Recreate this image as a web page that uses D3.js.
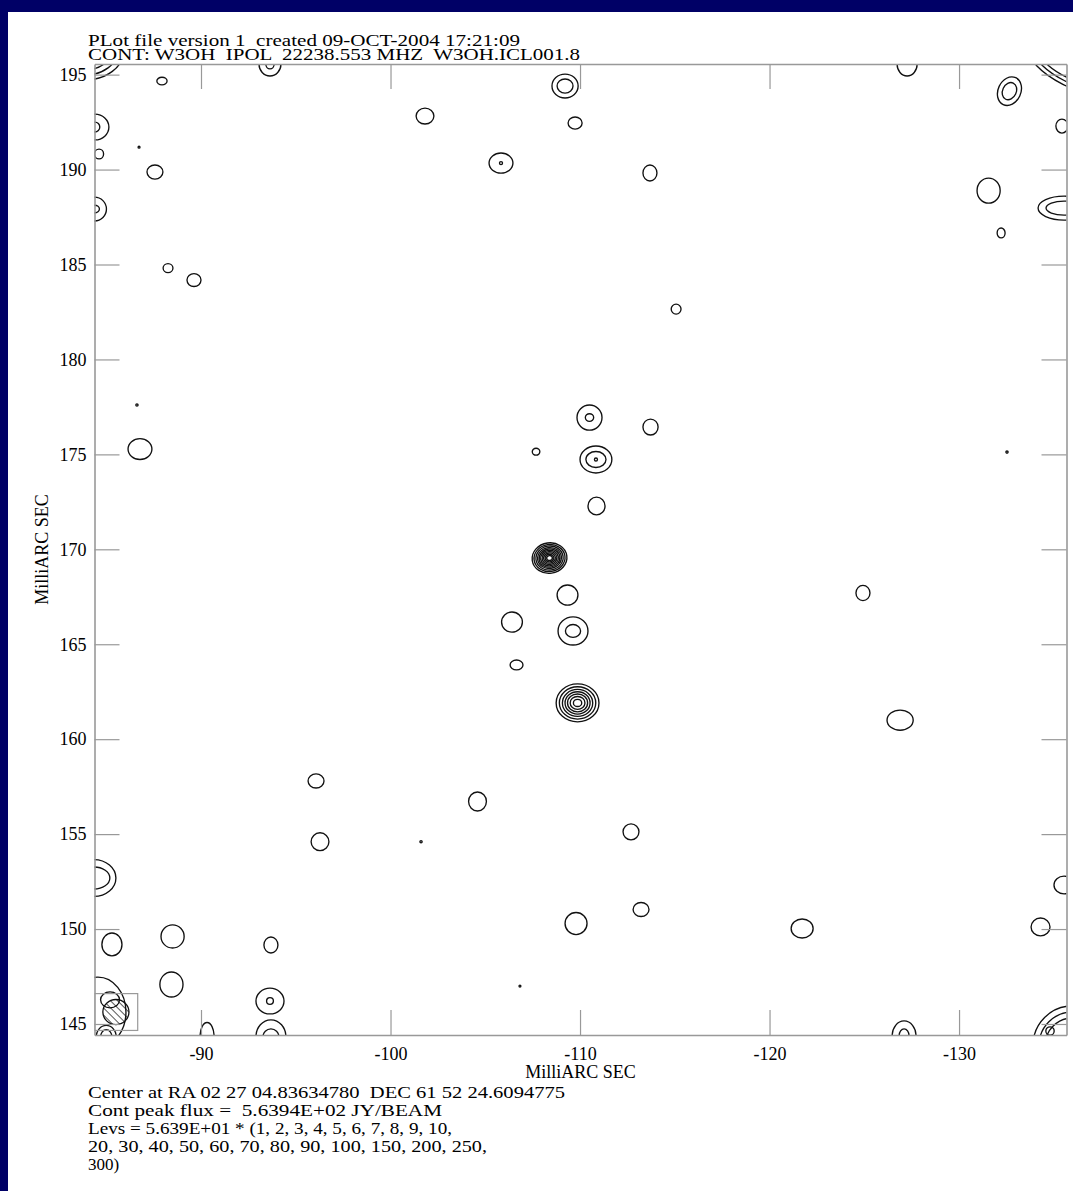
<!DOCTYPE html>
<html>
<head>
<meta charset="utf-8">
<script src="https://cdn.jsdelivr.net/npm/d3@7"></script>
<style>
  html, body { margin: 0; padding: 0; background: #000066; }
  svg { display: block; }
  text { font-family: "Liberation Serif", "DejaVu Serif", serif; fill: #000; white-space: pre; }
</style>
</head>
<body>
<div class="contourMap"></div>
<script>
// axis ticks (milliarcsec)
const xTicks = [-90, -100, -110, -120, -130];
const yTicks = [145, 150, 155, 160, 165, 170, 175, 180, 185, 190, 195];
const xDomain = [-84.38, -135.67];
const yDomain = [144.42, 195.56];

const titleLines = [
    "PLot file version 1  created 09-OCT-2004 17:21:09",
    "CONT: W3OH  IPOL  22238.553 MHZ  W3OH.ICL001.8"
];
const footerLines = [
    "Center at RA 02 27 04.83634780  DEC 61 52 24.6094775",
    "Cont peak flux =  5.6394E+02 JY/BEAM",
    "Levs = 5.639E+01 * (1, 2, 3, 4, 5, 6, 7, 8, 9, 10,",
    "20, 30, 40, 50, 60, 70, 80, 90, 100, 150, 200, 250,",
    "300)"
];
const levels = [1, 2, 3, 4, 5, 6, 7, 8, 9, 10, 20, 30, 40, 50, 60, 70, 80, 90, 100, 150, 200, 250, 300];

// contour components: centre (mas), rotation (deg), contour rings [rx, ry] in mas
const sources = [
    {x: -83.83, y: 196.29, rings: [[2.11, 1.58], [1.79, 1.32], [1.48, 1.05]]},
    {x: -87.94, y: 194.66, rings: [[.27, .2]]},
    {x: -93.64, y: 195.56, rings: [[.58, .63], [.22, .26]]},
    {x: -109.21, y: 194.40, rings: [[.69, .63], [.42, .37]]},
    {x: -101.82, y: 192.82, rings: [[.47, .42]]},
    {x: -109.74, y: 192.45, rings: [[.37, .32]]},
    {x: -127.26, y: 195.56, rings: [[.53, .63]]},
    {x: -132.66, y: 194.13, rot: 25, rings: [[.6, .78], [.36, .47]]},
    {x: -135.86, y: 195.24, rot: 27, rings: [[2.37, .84], [2.0, .63], [1.63, .42]]},
    {x: -84.4, y: 192.24, rings: [[.74, .68], [.26, .26]]},
    {x: -84.62, y: 190.82, rings: [[.24, .26]]},
    {x: -86.73, y: 191.18, rings: [[.05, .05]]},
    {x: -87.57, y: 189.87, rings: [[.42, .37]]},
    {x: -105.83, y: 190.34, rings: [[.63, .53], [.08, .08]]},
    {x: -113.69, y: 189.82, rings: [[.37, .42]]},
    {x: -131.56, y: 188.89, rings: [[.61, .66]]},
    {x: -135.54, y: 187.97, rings: [[1.37, .63], [.95, .37]]},
    {x: -132.22, y: 186.66, rings: [[.21, .26]]},
    {x: -84.38, y: 187.92, rings: [[.63, .63], [.26, .2]]},
    {x: -135.43, y: 192.29, rings: [[.32, .37]]},
    {x: -88.26, y: 184.81, rings: [[.26, .24]]},
    {x: -89.63, y: 184.18, rings: [[.37, .34]]},
    {x: -115.07, y: 182.65, rings: [[.26, .26]]},
    {x: -86.62, y: 177.6, rings: [[.06, .06]]},
    {x: -86.78, y: 175.28, rings: [[.63, .55]]},
    {x: -107.68, y: 175.14, rings: [[.2, .18]]},
    {x: -110.5, y: 176.94, rings: [[.66, .66], [.22, .2]]},
    {x: -113.72, y: 176.44, rings: [[.4, .42]]},
    {x: -110.84, y: 174.73, rings: [[.84, .71], [.53, .42], [.08, .08]]},
    {x: -132.53, y: 175.12, rings: [[.06, .06]]},
    {x: -110.87, y: 172.28, rings: [[.45, .47]]},
    {x: -108.39, y: 169.54, rot: -8, rings: [[.92, .8], [.82, .71], [.72, .63], [.63, .55], [.55, .48], [.47, .41], [.39, .34], [.31, .27], [.23, .2], [.15, .13]]},
    {x: -109.34, y: 167.59, rings: [[.55, .53]]},
    {x: -106.41, y: 166.17, rings: [[.55, .53]]},
    {x: -109.63, y: 165.7, rings: [[.79, .74], [.4, .34]]},
    {x: -106.65, y: 163.91, rings: [[.34, .26]]},
    {x: -124.93, y: 167.7, rings: [[.37, .4]]},
    {x: -109.87, y: 161.91, rings: [[1.13, 1.0], [.96, .85], [.80, .71], [.66, .59], [.53, .47], [.39, .34], [.22, .19]]},
    {x: -126.89, y: 161.0, rings: [[.69, .53]]},
    {x: -96.07, y: 157.8, rings: [[.42, .37]]},
    {x: -104.59, y: 156.72, rings: [[.47, .5]]},
    {x: -101.61, y: 154.6, rings: [[.06, .06]]},
    {x: -96.28, y: 154.6, rings: [[.47, .47]]},
    {x: -112.69, y: 155.12, rings: [[.42, .42]]},
    {x: -84.35, y: 152.69, rings: [[1.16, .97], [.84, .58]]},
    {x: -113.22, y: 151.03, rings: [[.42, .37]]},
    {x: -109.79, y: 150.29, rings: [[.58, .58]]},
    {x: -121.72, y: 150.03, rings: [[.58, .5]]},
    {x: -134.3, y: 150.11, rings: [[.5, .47]]},
    {x: -135.54, y: 152.32, rings: [[.53, .47]]},
    {x: -85.3, y: 149.19, rings: [[.53, .6]]},
    {x: -88.5, y: 149.61, rings: [[.61, .61]]},
    {x: -93.69, y: 149.16, rings: [[.37, .42]]},
    {x: -88.44, y: 147.08, rings: [[.61, .66]]},
    {x: -93.64, y: 146.21, rings: [[.74, .68], [.18, .18]]},
    {x: -93.69, y: 144.32, rings: [[.79, .9], [.42, .42]]},
    {x: -90.32, y: 144.34, rings: [[.37, .74]]},
    {x: -84.56, y: 145.63, rings: [[1.48, 1.84]]},
    {x: -85.2, y: 146.27, rings: [[.5, .42]]},
    {x: -85.0, y: 144.3, rings: [[.53, .63], [.3, .4]]},
    {x: -106.83, y: 147.0, rings: [[.05, .05]]},
    {x: -127.1, y: 144.37, rings: [[.63, .79], [.26, .37]]},
    {x: -135.86, y: 144.0, rot: -45, rings: [[2.0, 1.9], [1.69, 1.58], [1.37, 1.26]]},
    {x: -134.8, y: 144.63, rings: [[.22, .22]]}
];

// restoring beam drawn in the lower left box
const beam = {x: -85.51, y: 145.63, rx: .69, ry: .66, boxX: 1.15, boxY: .97};

// reference widths of the printed text lines (px), 0 = natural width
const titleWidths = [432, 492];
const footerWidths = [477, 354, 364, 399, 0];

const draw = () => {
    const W = 1073, H = 1191;
    const frame = {left: 94.5, right: 1066.5, top: 64, bottom: 1035};
    const fontSize = 17, tickFont = 18;

    d3.select('.contourMap > *').remove();
    let svg = d3.select('.contourMap')
        .append('svg')
        .attr('width', W)
        .attr('height', H);

    // navy border, white page
    svg.append('rect').attr('width', W).attr('height', H).attr('fill', '#000066');
    svg.append('rect').attr('x', 8).attr('y', 12).attr('width', W - 8).attr('height', H - 12).attr('fill', '#fff');

    let xscale = d3.scaleLinear().domain(xDomain).range([frame.left, frame.right]);
    let yscale = d3.scaleLinear().domain(yDomain).range([frame.bottom, frame.top]);
    const fmt = d => String(d);

    svg.append('clipPath').attr('id', 'plotClip')
        .append('rect')
        .attr('x', frame.left).attr('y', frame.top)
        .attr('width', frame.right - frame.left).attr('height', frame.bottom - frame.top);

    // hatch for the beam
    svg.append('pattern')
        .attr('id', 'hatch')
        .attr('patternUnits', 'userSpaceOnUse')
        .attr('width', 5).attr('height', 5)
        .attr('patternTransform', 'rotate(-45)')
        .append('line')
        .attr('x1', 0).attr('y1', 0).attr('x2', 0).attr('y2', 5)
        .attr('stroke', '#111').attr('stroke-width', 1.4);

    // contours
    let plot = svg.append('g').attr('clip-path', 'url(#plotClip)');
    let comps = plot.selectAll('g.comp')
        .data(sources)
        .enter()
        .append('g')
        .attr('class', 'comp')
        .attr('transform', d => `translate(${xscale(d.x)},${yscale(d.y)}) rotate(${d.rot || 0})`);

    comps.selectAll('ellipse')
        .data(d => d.rings.map(r => ({d, r})))
        .enter()
        .append('ellipse')
        .attr('rx', o => Math.abs(xscale(o.d.x + o.r[0]) - xscale(o.d.x)))
        .attr('ry', o => Math.abs(yscale(o.d.y + o.r[1]) - yscale(o.d.y)))
        .attr('fill', 'none')
        .attr('stroke', '#111')
        .attr('stroke-width', 1.35);

    // beam box
    const bx = xscale(beam.x), by = yscale(beam.y);
    const bw = Math.abs(xscale(beam.x + beam.boxX) - bx);
    const bh = Math.abs(yscale(beam.y + beam.boxY) - by);
    plot.append('rect')
        .attr('x', bx - bw).attr('y', by - bh)
        .attr('width', 2 * bw).attr('height', 2 * bh)
        .attr('fill', 'none').attr('stroke', '#999').attr('stroke-width', 1.2);
    plot.append('ellipse')
        .attr('cx', bx).attr('cy', by)
        .attr('rx', Math.abs(xscale(beam.x + beam.rx) - bx))
        .attr('ry', Math.abs(yscale(beam.y + beam.ry) - by))
        .attr('fill', 'url(#hatch)')
        .attr('stroke', '#111').attr('stroke-width', 1.3);

    // axes, ticks point inward
    const styleAxis = g => {
        g.selectAll('path.domain').attr('stroke', '#999').attr('stroke-width', 1.6);
        g.selectAll('.tick line').attr('stroke', '#999').attr('stroke-width', 1.2);
        g.selectAll('text').style('font-family', '"Liberation Serif", serif').style('font-size', tickFont + 'px').attr('fill', '#000');
    };
    svg.append('g')
        .attr('transform', `translate(${frame.left},0)`)
        .call(d3.axisLeft(yscale).tickValues(yTicks).tickSize(-25).tickSizeOuter(0).tickPadding(8).tickFormat(fmt))
        .call(styleAxis);
    svg.append('g')
        .attr('transform', `translate(${frame.right},0)`)
        .call(d3.axisRight(yscale).tickValues(yTicks).tickSize(-25).tickSizeOuter(0).tickFormat(''))
        .call(styleAxis);
    svg.append('g')
        .attr('transform', `translate(0,${frame.bottom})`)
        .call(d3.axisBottom(xscale).tickValues(xTicks).tickSize(-25).tickSizeOuter(0).tickPadding(12).tickFormat(fmt))
        .call(styleAxis);
    svg.append('g')
        .attr('transform', `translate(0,${frame.top})`)
        .call(d3.axisTop(xscale).tickValues(xTicks).tickSize(-25).tickSizeOuter(0).tickFormat(''))
        .call(styleAxis);

    // axis titles
    svg.append('text')
        .text('MilliARC SEC')
        .attr('x', (frame.left + frame.right) / 2)
        .attr('y', 1078)
        .attr('font-size', tickFont)
        .style('text-anchor', 'middle');
    svg.append('text')
        .text('MilliARC SEC')
        .attr('transform', `translate(48,${(frame.top + frame.bottom) / 2}) rotate(-90)`)
        .attr('font-size', tickFont)
        .style('text-anchor', 'middle');

    // header and footer text
    const addLines = (cls, lines, widths, y0, step) => {
        svg.selectAll('text.' + cls)
            .data(lines)
            .enter()
            .append('text')
            .attr('class', cls)
            .text(d => d)
            .attr('x', 88)
            .attr('y', (d, i) => y0 + i * step)
            .attr('font-size', fontSize)
            .each(function (d, i) {
                if (widths[i]) {
                    d3.select(this).attr('textLength', widths[i]).attr('lengthAdjust', 'spacingAndGlyphs');
                }
            });
    };
    addLines('title', titleLines, titleWidths, 45.5, 14.5);
    addLines('footer', footerLines, footerWidths, 1098, 18);
}

draw();
</script>
</body>
</html>
